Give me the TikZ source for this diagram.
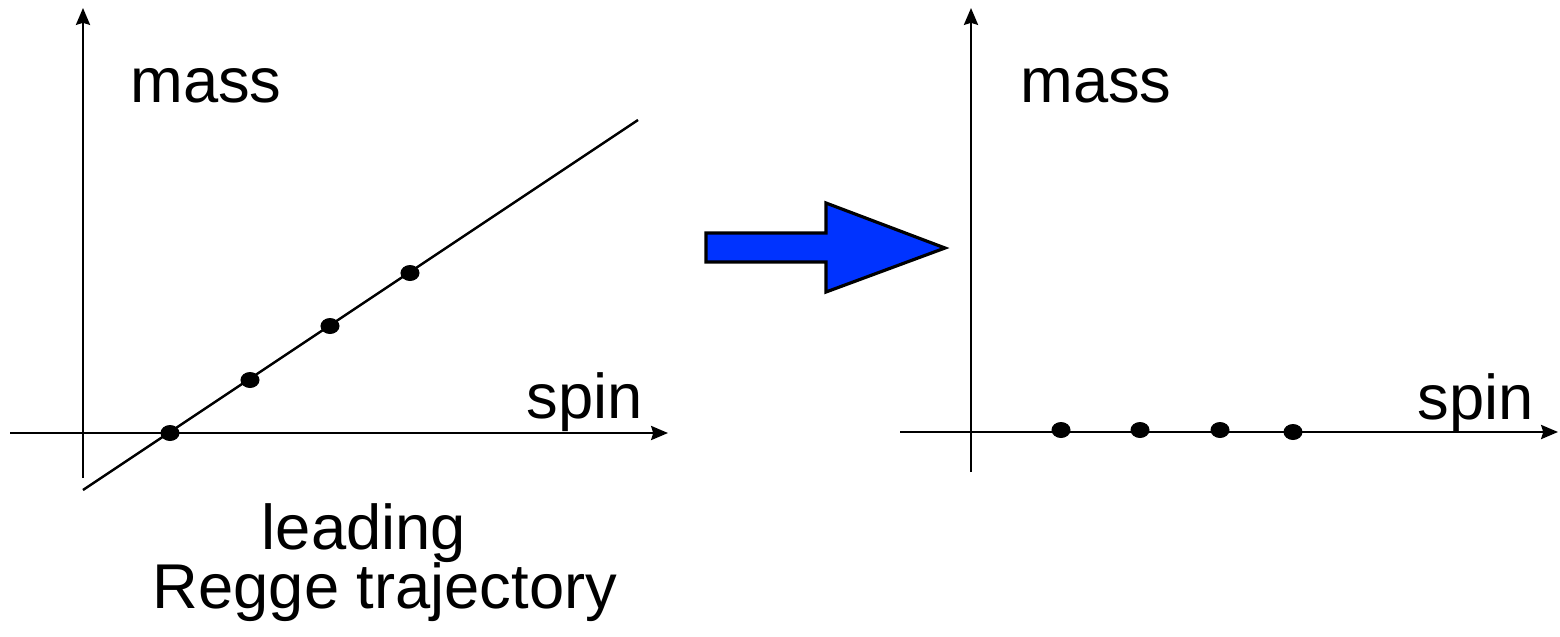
\documentclass[tikz,border=0pt]{standalone}
\usepackage{fontspec}
\setmainfont{Liberation Sans}
\usetikzlibrary{arrows.meta, shapes.geometric}
\definecolor{arrowblue}{RGB}{0, 51, 255}
\tikzset{
	axis/.style={line width=0.7pt, -{Stealth[length=4.8pt, width=4pt, inset=0.6pt]}},
	traj/.style={line width=0.7pt},
	state/.style={ellipse, fill=black, inner sep=0pt, minimum width=0.19cm, minimum height=0.16cm},
	lbl/.style={anchor=base, inner sep=0pt, font=\fontsize{18}{21}\selectfont},
}

\begin{document}
\begin{tikzpicture}[x=0.01cm, y=-0.01cm]
				\useasboundingbox (0,0) rectangle (1560,636);
				% Left panel: axes
				\coordinate (lx0) at (10,433);
				\coordinate (lx1) at (668,433);
				\coordinate (ly0) at (83,478);
				\coordinate (ly1) at (83,8);
				\draw[axis] (lx0) -- (lx1);
				\draw[axis] (ly0) -- (ly1);

				% Trajectory and states on it
				\coordinate (t0) at (83,490);
				\coordinate (t1) at (638,120);
				\draw[traj] (t0) -- (t1);
				\foreach \i/\x/\y in {1/170/433, 2/250/380, 3/330/326, 4/410/273} {
					\node[state] (l\i) at (\x,\y) {};
				}

				% Left labels
				\node[lbl] (lmass) at (206,102) {mass};
				\node[lbl] (lspin) at (585,418) {spin};
				\node[lbl] (lead) at (364,549) {leading};
				\node[lbl] (regge) at (385,608) {Regge trajectory};

				% Blue arrow between the panels
				\draw[fill=arrowblue, line width=0.9pt] (706,233) -- (826,233) -- (826,203) -- (945,248)
					-- (826,292) -- (826,262) -- (706,262) -- cycle;

				% Right panel: axes
				\coordinate (rx0) at (900,432);
				\coordinate (rx1) at (1558,432);
				\coordinate (ry0) at (971,472);
				\coordinate (ry1) at (971,8);
				\draw[axis] (rx0) -- (rx1);
				\draw[axis] (ry0) -- (ry1);
				\foreach \i/\x/\y in {1/1061/430, 2/1140/430, 3/1220/430, 4/1293/432} {
					\node[state] (r\i) at (\x,\y) {};
				}

				% Right labels
				\node[lbl] (rmass) at (1096,102) {mass};
				\node[lbl] (rspin) at (1476,419) {spin};
\end{tikzpicture}
\end{document}
